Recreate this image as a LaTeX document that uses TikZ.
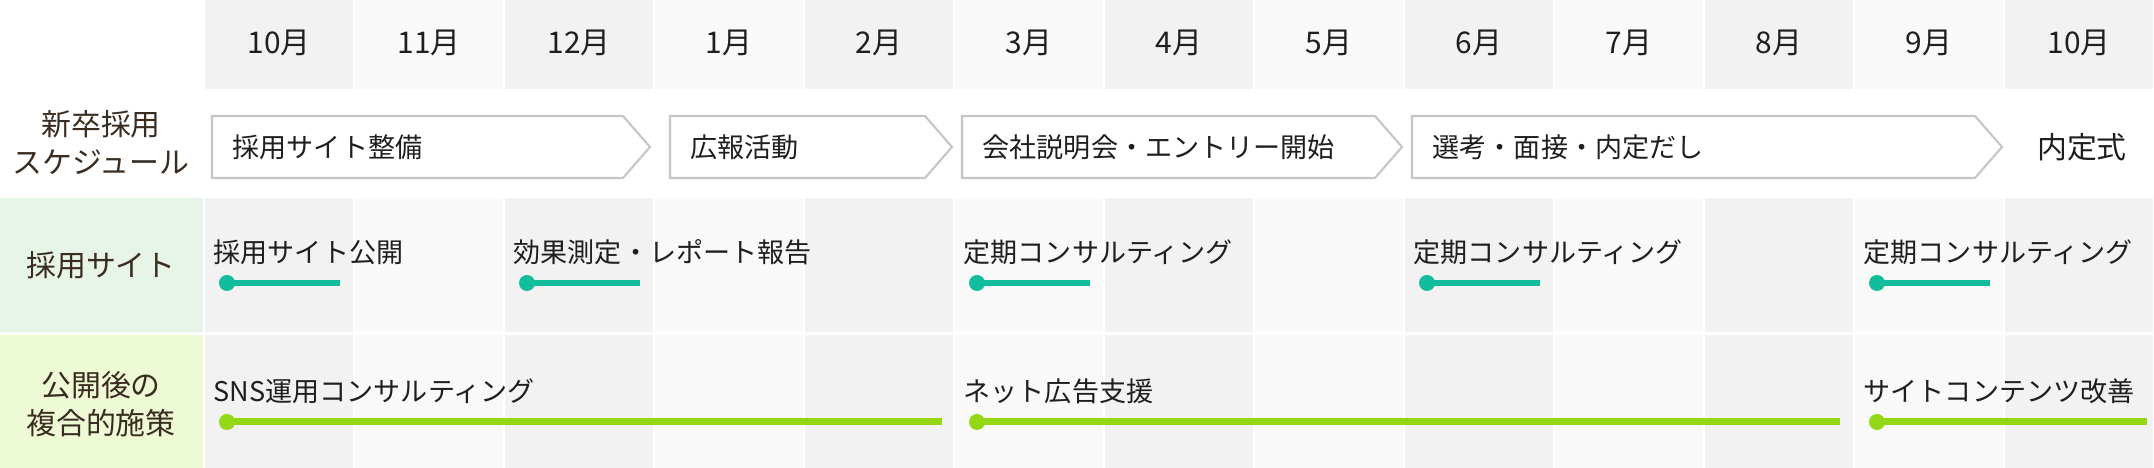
\documentclass[tikz,border=0pt]{standalone}
\usepackage[svgnames]{xcolor}
\usepackage{fontspec}
\usepackage{tikz}
\newfontfamily\jpfont{Noto Sans CJK JP}
\definecolor{sitebar}{HTML}{12BD9C}
\definecolor{measurebar}{HTML}{94D714}
\definecolor{sitecell}{HTML}{E6F5E8}
\definecolor{measurecell}{HTML}{EEFAD5}
\definecolor{phaseline}{HTML}{C6C6C6}
\definecolor{rowbrown}{HTML}{3A2C20}
\colorlet{tasktext}{black!88}

\begin{document}
\begin{tikzpicture}[
  x=0.01cm, y=-0.01cm,
  every node/.style={font=\jpfont\fontsize{7.7}{10.2}\selectfont, text=tasktext, inner sep=0pt},
  month/.style={anchor=center, font=\jpfont\fontsize{8.5}{10.2}\selectfont},
  rowhead/.style={align=center, text=rowbrown, font=\jpfont\fontsize{8.5}{10.8}\selectfont},
  phase/.style={draw=phaseline, line width=0.6pt, fill=white, line join=miter},
  task/.style={anchor=west},
  sitedot/.style={circle, fill=sitebar, minimum size=0.16cm},
  measuredot/.style={circle, fill=measurebar, minimum size=0.16cm},
  site link/.style={draw=sitebar, line width=0.06cm},
  measure link/.style={draw=measurebar, line width=0.07cm}
]
\useasboundingbox (0,0) rectangle (2154,468);
\fill[sitecell] (0,198) rectangle (203,332);
\fill[measurecell] (0,335) rectangle (203,468);
\foreach[evaluate=\i as \tint using {Mod(\i,2) == 0 ? 2.4 : 5.1}] \m [count=\i from 0] in {10,11,12,1,2,3,4,5,6,7,8,9,10}
{
  \begin{scope}[xshift=150*\i*0.01cm]
  \fill[black!\tint] (205,0) rectangle (353,89);
  \fill[black!\tint] (205,198) rectangle (353,332);
  \fill[black!\tint] (205,335) rectangle (353,468);
  \node[month] (month\i) at (279,43) {\m 月};
  \end{scope}
}
\node[rowhead] (schedule) at (101,143) {新卒採用\\スケジュール};
\node[rowhead] (site) at (101,265) {採用サイト};
\node[rowhead] (measure) at (101,404) {公開後の\\複合的施策};
\foreach \x/\tip/\txt [count=\i] in {212/623/採用サイト整備, 670/925/広報活動, 962/1375/会社説明会・エントリー開始, 1412/1975/選考・面接・内定だし}
{
  \draw[phase] (\x,116) -- (\tip,116) -- ++(27,31) -- (\tip,178) -- (\x,178) -- cycle;
  \node[task] (phase\i) at (\x+20,147) {\txt};
}
\node[month] (ceremony) at (2082,147) {内定式};
\foreach \col/\txt [count=\i] in {0/採用サイト公開, 2/効果測定・レポート報告, 5/定期コンサルティング, 8/定期コンサルティング, 11/定期コンサルティング}
{
  \node[task] (site\i) at (213+150*\col,252) {\txt};
  \node[sitedot] (sitestart\i) at (227+150*\col,283) {};
  \coordinate (siteend\i) at (340+150*\col,283);
  \draw[site link] (sitestart\i.center) -- (siteend\i);
}
\foreach \col/\stop/\txt [count=\i] in {0/942/SNS運用コンサルティング, 5/1840/ネット広告支援, 11/2147/サイトコンテンツ改善}
{
  \node[task] (measure\i) at (213+150*\col,391) {\txt};
  \node[measuredot] (measurestart\i) at (227+150*\col,422) {};
  \coordinate (measureend\i) at (\stop,422);
  \draw[measure link] (measurestart\i.center) -- (measureend\i);
}
\end{tikzpicture}
\end{document}
